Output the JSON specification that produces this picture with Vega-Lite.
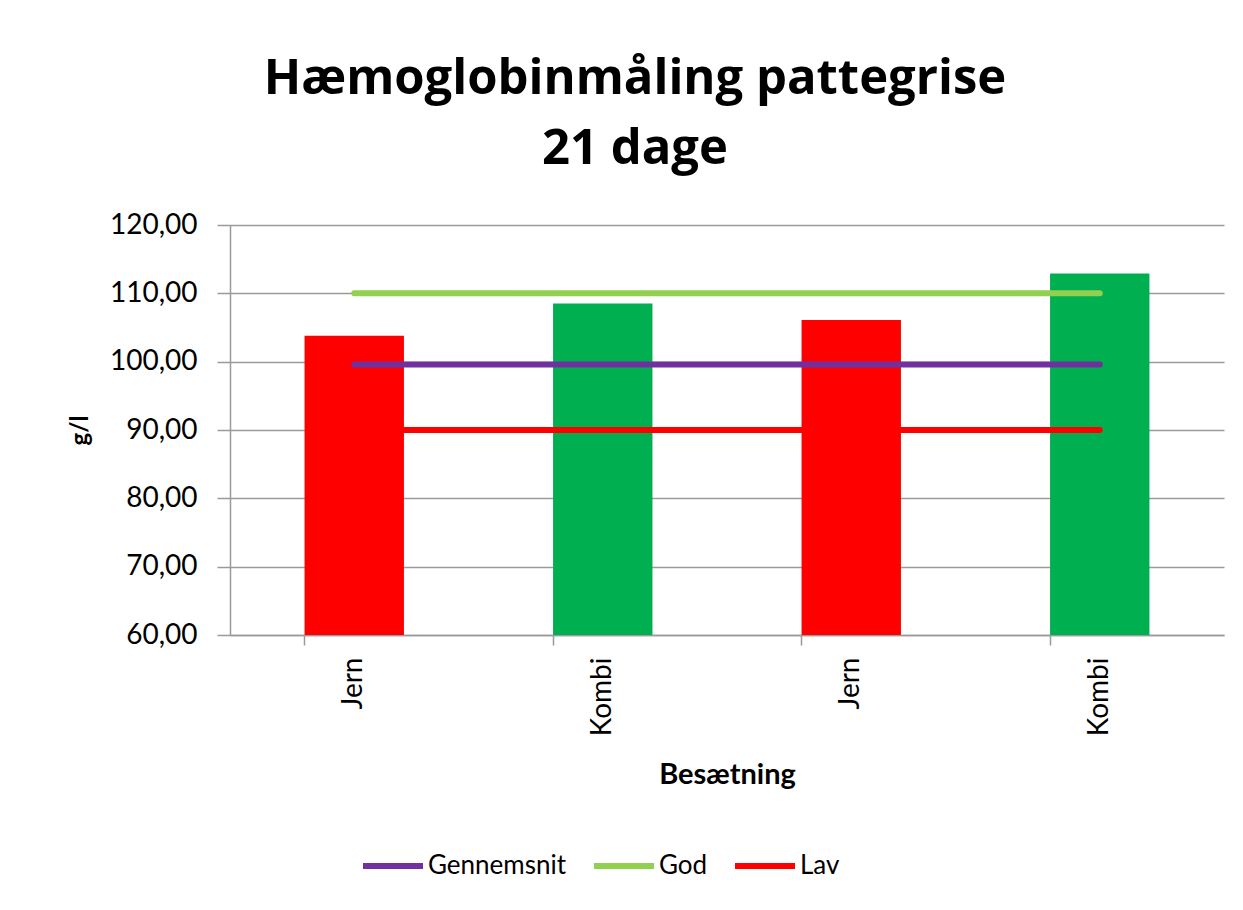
{
  "$schema": "https://vega.github.io/schema/vega-lite/v6.json",
  "autosize": "none",
  "width": 994,
  "height": 410,
  "padding": {"left": 230, "top": 225, "right": 19, "bottom": 275},
  "background": "white",
  "config": {
    "font": "Lato",
    "view": {"stroke": null}
  },
  "title": {
    "text": ["Hæmoglobinmåling pattegrise", "21 dage"],
    "font": "Open Sans",
    "fontSize": 49,
    "fontWeight": "bold",
    "color": "black",
    "lineHeight": 70,
    "anchor": "middle",
    "frame": "group",
    "dx": -92,
    "offset": 37
  },
  "datasets": {
    "bars": [
      {"cat": "Jern 1", "type": "Jern", "value": 103.8},
      {"cat": "Kombi 1", "type": "Kombi", "value": 108.5},
      {"cat": "Jern 2", "type": "Jern", "value": 106.1},
      {"cat": "Kombi 2", "type": "Kombi", "value": 112.9}
    ],
    "lines": [
      {"cat": "Jern 1", "series": "Gennemsnit", "value": 99.6},
      {"cat": "Kombi 1", "series": "Gennemsnit", "value": 99.6},
      {"cat": "Jern 2", "series": "Gennemsnit", "value": 99.6},
      {"cat": "Kombi 2", "series": "Gennemsnit", "value": 99.6},
      {"cat": "Jern 1", "series": "God", "value": 110},
      {"cat": "Kombi 1", "series": "God", "value": 110},
      {"cat": "Jern 2", "series": "God", "value": 110},
      {"cat": "Kombi 2", "series": "God", "value": 110},
      {"cat": "Jern 1", "series": "Lav", "value": 90},
      {"cat": "Kombi 1", "series": "Lav", "value": 90},
      {"cat": "Jern 2", "series": "Lav", "value": 90},
      {"cat": "Kombi 2", "series": "Lav", "value": 90}
    ]
  },
  "encoding": {
    "x": {
      "field": "cat",
      "type": "nominal",
      "sort": ["Jern 1", "Kombi 1", "Jern 2", "Kombi 2"],
      "scale": {"paddingInner": 0.6, "paddingOuter": 0.3},
      "axis": {
        "title": "Besætning",
        "titleFont": "Lato",
        "titleFontSize": 29,
        "titleFontWeight": "bold",
        "titleColor": "black",
        "titleBaseline": "alphabetic",
        "titleY": 148,
        "labelExpr": "split(datum.label, ' ')[0]",
        "labelAngle": -90,
        "labelAlign": "right",
        "labelBaseline": "middle",
        "labelFont": "Lato",
        "labelFontSize": 28,
        "labelColor": "black",
        "labelPadding": 12,
        "labelOverlap": false,
        "tickSize": 10,
        "tickColor": "#9a9a9a",
        "tickWidth": 1.5,
        "bandPosition": 0,
        "domainColor": "#9a9a9a",
        "domainWidth": 1.5,
        "grid": false
      }
    },
    "y": {
      "field": "value",
      "type": "quantitative",
      "scale": {"domain": [60, 120], "zero": false, "nice": false},
      "axis": {
        "values": [60, 70, 80, 90, 100, 110, 120],
        "labelExpr": "replace(format(datum.value, '.2f'), '.', ',')",
        "labelFont": "Lato",
        "labelFontSize": 28,
        "labelColor": "black",
        "labelPadding": 20,
        "tickSize": 13,
        "tickColor": "#9a9a9a",
        "tickWidth": 1.5,
        "domainColor": "#9a9a9a",
        "domainWidth": 1.5,
        "grid": true,
        "gridColor": "#9a9a9a",
        "gridWidth": 1.5,
        "title": "g/l",
        "titleFont": "Lato",
        "titleFontSize": 24,
        "titleFontWeight": "bold",
        "titleColor": "black",
        "titleAngle": -90,
        "titleX": -150,
        "titleY": 205,
        "titleAlign": "center",
        "titleBaseline": "middle"
      }
    }
  },
  "layer": [
    {
      "data": {"name": "bars"},
      "mark": {"type": "bar"},
      "encoding": {
        "y2": {"datum": 60},
        "color": {
          "field": "type",
          "type": "nominal",
          "scale": {"domain": ["Jern", "Kombi"], "range": ["#FF0000", "#00B050"]},
          "legend": null
        }
      }
    },
    {
      "data": {"name": "lines"},
      "mark": {"type": "line", "strokeWidth": 6, "strokeCap": "round"},
      "encoding": {
        "color": {
          "field": "series",
          "type": "nominal",
          "scale": {"domain": ["Gennemsnit", "God", "Lav"], "range": ["#7030A0", "#92D050", "#FF0000"]},
          "legend": {
            "orient": "none",
            "legendX": 130,
            "legendY": 608,
            "direction": "horizontal",
            "title": null,
            "symbolType": "stroke",
            "symbolSize": 3600,
            "symbolStrokeWidth": 6,
            "labelFont": "Lato",
            "labelFontSize": 26,
            "labelColor": "black",
            "labelOffset": 2,
            "columnPadding": 15
          }
        }
      }
    }
  ],
  "resolve": {"scale": {"color": "independent"}}
}
